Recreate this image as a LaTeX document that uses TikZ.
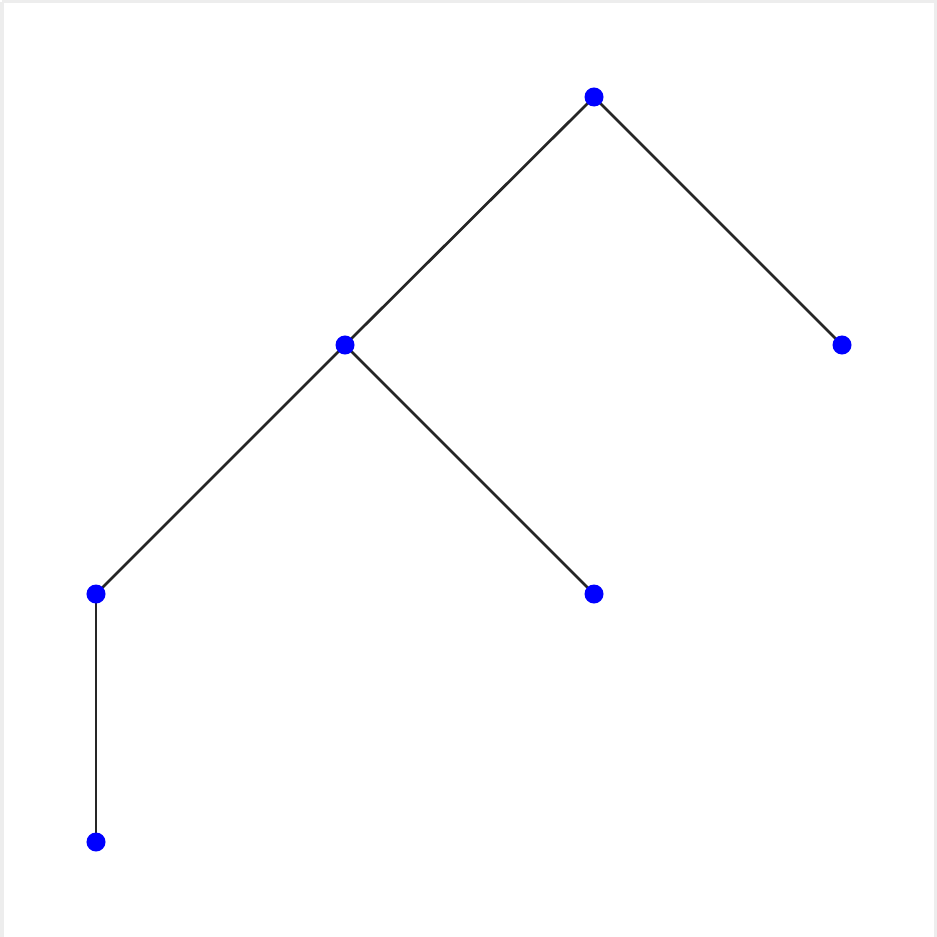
\documentclass[tikz,border=0pt]{standalone}
\begin{document}
\begin{tikzpicture}[x=0.01cm,y=-0.01cm,
  vert/.style={circle,fill=blue,inner sep=0pt,minimum size=0.19cm},
  edge/.style={draw=black!85,line width=0.027cm}]
\useasboundingbox (0,0) rectangle (937,937);
\fill[white] (0,0) rectangle (937,937);
\draw[black!7,line width=0.03cm] (2,2) -- (2,937);
\draw[black!7,line width=0.03cm] (2,2) -- (935,2) -- (935,937);
\coordinate (r) at (594,97);
\coordinate (a) at (345,345);
\coordinate (b) at (842,345);
\coordinate (c) at (96,594);
\coordinate (d) at (594,594);
\coordinate (e) at (96,842);
\path[edge] (r) -- (a);
\path[edge] (r) -- (b);
\path[edge] (a) -- (c);
\path[edge] (a) -- (d);
\path[edge] (c) -- (e);
\foreach \n in {r,a,b,c,d,e}
  \node[vert] (\n v) at (\n) {};
\end{tikzpicture}
\end{document}
